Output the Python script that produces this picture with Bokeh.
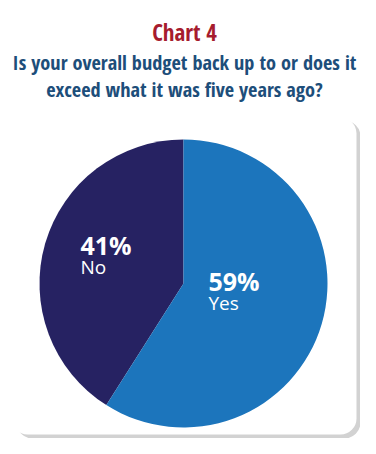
import numpy as np
from bokeh.plotting import figure
from bokeh.models import Range1d, BoxAnnotation, ColumnDataSource
from bokeh.core.properties import value
from bokeh.embed import file_html
from bokeh.resources import INLINE

# ---- data ----
categories = ["No", "Yes"]
values = [41, 59]
colors = ["#262262", "#1C75BC"]
title_main = "Chart 4"
title_lines = ["Is your overall budget back up to or does it",
               "exceed what it was five years ago?"]

W, H = 360, 438
p = figure(width=W, height=H, output_backend="svg", toolbar_location=None,
           x_range=Range1d(0, 360), y_range=Range1d(16, 454),
           min_border=0, outline_line_color=None)
p.axis.visible = False
p.grid.visible = False
p.background_fill_color = "white"
p.border_fill_color = "white"

# card with shadow
p.add_layout(BoxAnnotation(left=16, right=360, top=334, bottom=16,
                           fill_color="#d2d2d2", fill_alpha=1.0, line_color=None,
                           border_radius=16, level="underlay"))
p.add_layout(BoxAnnotation(left=11, right=356, top=337, bottom=20,
                           fill_color="white", fill_alpha=1.0, line_color=None,
                           border_radius=16, level="underlay"))

# pie
vals = np.array(values, dtype=float)
ang = vals / vals.sum() * 2 * np.pi
starts = np.pi / 2 + np.concatenate([[0], np.cumsum(ang)[:-1]])
ends = starts + ang
src = ColumnDataSource(dict(cat=categories, start=starts, end=ends, color=colors))
p.wedge(x=183, y=171, radius=144, start_angle="start", end_angle="end",
        fill_color="color", line_color=None, source=src)

# labels
pct = [f"{v}%" for v in values]
lab_x = [80, 208]
pct_y = [210, 174]
name_y = [188, 152]
p.text(x=lab_x, y=pct_y, text=pct, text_font=value("Open Sans"),
       text_font_style="bold", text_font_size="25px", text_color="white",
       text_baseline="alphabetic", text_align="left")
p.text(x=lab_x, y=name_y, text=categories, text_font=value("Open Sans"),
       text_font_size="19px", text_color="white",
       text_baseline="alphabetic", text_align="left")

# titles
p.text(x=[184], y=[423], text=[title_main], text_font=value("Open Sans Condensed"),
       text_font_style="bold", text_font_size="23px", text_color="#A61C2E",
       text_baseline="alphabetic", text_align="center")
p.text(x=[184, 184], y=[393, 366], text=title_lines,
       text_font=value("Open Sans Condensed"),
       text_font_style="bold", text_font_size="20.3px", text_color="#1D4E7A",
       text_baseline="alphabetic", text_align="center")

open("out.html", "w").write(file_html(p, INLINE))
